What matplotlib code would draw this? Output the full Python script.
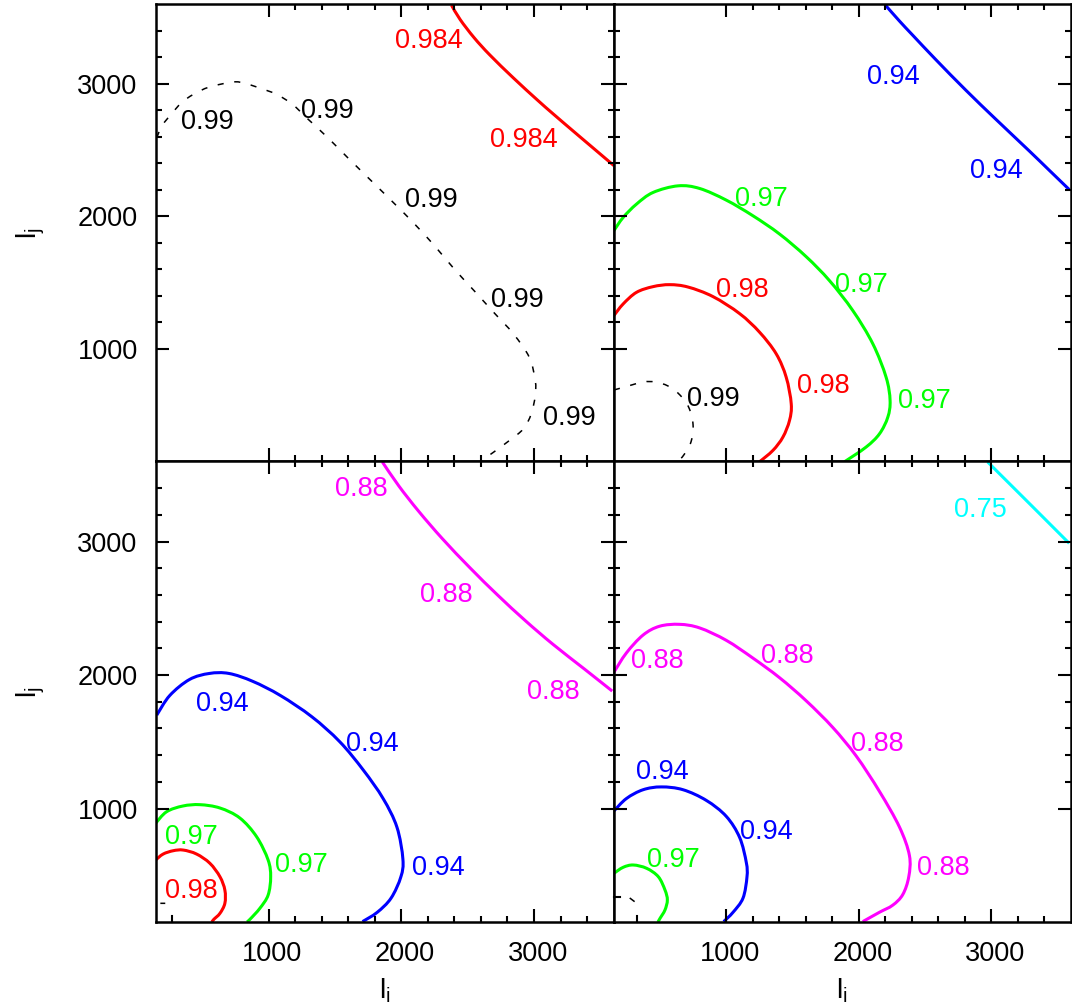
import matplotlib
matplotlib.use("Agg")
import matplotlib.pyplot as plt
from matplotlib.ticker import FixedLocator, NullFormatter
from matplotlib.transforms import ScaledTranslation
from matplotlib.path import Path
from matplotlib.patches import PathPatch

plt.rcParams['font.family'] = ['Liberation Sans', 'DejaVu Sans']
plt.rcParams['mathtext.fontset'] = 'custom'
plt.rcParams['mathtext.rm'] = 'Liberation Sans'

# ---------------- axes ----------------
l_min, l_max = 150, 3600
major_ticks = [1000, 2000, 3000]
minor_ticks = [1200, 1400, 1600, 1800, 2200, 2400, 2600, 2800, 3200, 3400]
tick_labels = ['1000', '2000', '3000']
x_title = r'$\mathregular{l_i}$'
y_title = r'$\mathregular{l_j}$'

# ---------------- iso-lines, panel (a) top-left ----------------
a_984_x = [2378, 2443, 2548, 2667, 2845, 3024, 3143, 3292, 3440, 3601]
a_984_y = [3595, 3487, 3350, 3219, 3045, 2880, 2775, 2647, 2521, 2384]
a_984_lab = [(2205, 3344), (2920, 2600)]

a_99_x = [158, 196, 256, 345, 435, 554, 732, 821, 940, 1060, 1179, 1298, 1446,
          1595, 1774, 1952, 2101, 2250, 2399, 2548, 2696, 2845, 2964, 3009,
          3009, 2979, 2920, 2815, 2696, 2592]
a_99_y = [2595, 2683, 2759, 2859, 2922, 2977, 3015, 3005, 2967, 2922, 2847, 2734,
          2595, 2445, 2269, 2093, 1942, 1779, 1603, 1440, 1276, 1113, 937, 761,
          648, 510, 397, 309, 221, 148]
a_99_lab = [(539, 2734), (1446, 2817), (2229, 2148), (2875, 1394), (3262, 503)]

# ---------------- panel (b) top-right ----------------
b_94_x = [2201, 2307, 2407, 2583, 2809, 3035, 3286, 3437, 3588]
b_94_y = [3595, 3475, 3368, 3182, 2952, 2733, 2495, 2349, 2203]
b_94_lab = [(2259, 3078), (3038, 2367)]

b_97_x = [151, 221, 322, 447, 636, 799, 1000, 1201, 1402, 1603, 1779, 1955,
          2106, 2206, 2236, 2219, 2156, 2055, 1892]
b_97_y = [1892, 1992, 2093, 2181, 2231, 2211, 2123, 2005, 1867, 1696, 1515, 1289,
          1038, 786, 611, 485, 359, 259, 148]
b_97_lab = [(1264, 2156), (2020, 1505), (2495, 631)]

b_98_x = [151, 221, 322, 447, 573, 711, 899, 1101, 1251, 1377, 1452, 1490,
          1477, 1427, 1352, 1251]
b_98_y = [1251, 1339, 1427, 1470, 1485, 1467, 1395, 1266, 1126, 962, 786, 585,
          460, 334, 234, 148]
b_98_lab = [(1118, 1465), (1734, 744)]

b_99_x = [152, 235, 371, 462, 560, 650, 718, 749, 734, 681, 635]
b_99_y = [690, 713, 750, 750, 720, 652, 555, 427, 300, 202, 150]
b_99_lab = [(905, 648)]

# ---------------- panel (c) bottom-left ----------------
c_88_x = [1857, 1982, 2131, 2310, 2518, 2726, 2935, 3143, 3381, 3589]
c_88_y = [3597, 3416, 3227, 3021, 2803, 2599, 2407, 2230, 2044, 1880]
c_88_lab = [(1699, 3413), (2339, 2622), (3143, 1897)]

c_94_x = [158, 256, 405, 554, 702, 881, 1089, 1327, 1536, 1714, 1863, 1967,
          2012, 1997, 1923, 1818, 1708]
c_94_y = [1700, 1847, 1967, 2012, 2012, 1953, 1847, 1687, 1501, 1288, 1075, 861,
          622, 489, 329, 222, 153]
c_94_lab = [(649, 1804), (1780, 1506), (2280, 579)]

c_97_x = [149, 232, 355, 483, 634, 784, 910, 997, 1016, 997, 935, 860, 837]
c_97_y = [889, 976, 1019, 1029, 1004, 929, 789, 614, 489, 352, 253, 170, 150]
c_97_lab = [(415, 808), (1244, 603)]

c_98_x = [149, 206, 282, 357, 458, 558, 634, 671, 671, 634, 588, 573]
c_98_y = [614, 659, 684, 689, 659, 590, 489, 389, 290, 215, 170, 150]
c_98_lab = [(415, 405)]

c_99_x = [185, 222]
c_99_y = [290, 290]

# ---------------- panel (d) bottom-right ----------------
d_75_x = [2972, 3136, 3312, 3462, 3588]
d_75_y = [3597, 3435, 3261, 3112, 2987]
d_75_lab = [(2915, 3261)]

d_88_x = [151, 246, 372, 497, 648, 799, 1000, 1201, 1402, 1603, 1804, 1980,
          2156, 2307, 2382, 2377, 2332, 2256, 2156, 2030]
d_88_y = [2020, 2166, 2300, 2366, 2380, 2353, 2260, 2127, 1980, 1807, 1607, 1394,
          1128, 861, 648, 489, 356, 276, 223, 153]
d_88_lab = [(480, 2129), (1460, 2164), (2136, 1503), (2638, 579)]

d_94_x = [151, 246, 372, 510, 673, 849, 1000, 1101, 1151, 1156, 1126, 1050, 980]
d_94_y = [981, 1075, 1141, 1162, 1141, 1061, 941, 782, 595, 489, 329, 222, 153]
d_94_lab = [(515, 1298), (1302, 846)]

d_97_x = [152, 222, 298, 399, 487, 537, 555, 537, 500, 484]
d_97_y = [515, 560, 577, 552, 489, 390, 315, 240, 178, 150]
d_97_lab = [(603, 638)]

d_99_x = [271, 311]
d_99_y = [330, 300]

# single stray ticks on the outer frame of the lower panels
c_extra_xticks = [272]
d_extra_xticks = [324]
d_extra_yticks = [340]

colors = {'0.75': '#00ffff', '0.88': '#ff00ff', '0.94': '#0000ff',
          '0.97': '#00ff00', '0.98': '#ff0000', '0.984': '#ff0000', '0.99': 'black'}

panels = [
    [('0.984', a_984_x, a_984_y, a_984_lab), ('0.99', a_99_x, a_99_y, a_99_lab)],
    [('0.94', b_94_x, b_94_y, b_94_lab), ('0.97', b_97_x, b_97_y, b_97_lab),
     ('0.98', b_98_x, b_98_y, b_98_lab), ('0.99', b_99_x, b_99_y, b_99_lab)],
    [('0.88', c_88_x, c_88_y, c_88_lab), ('0.94', c_94_x, c_94_y, c_94_lab),
     ('0.97', c_97_x, c_97_y, c_97_lab), ('0.98', c_98_x, c_98_y, c_98_lab),
     ('0.99', c_99_x, c_99_y, [])],
    [('0.75', d_75_x, d_75_y, d_75_lab), ('0.88', d_88_x, d_88_y, d_88_lab),
     ('0.94', d_94_x, d_94_y, d_94_lab), ('0.97', d_97_x, d_97_y, d_97_lab),
     ('0.99', d_99_x, d_99_y, [])],
]


def smooth_path(xs, ys):
    """Cubic Bezier path passing through every given point (Catmull-Rom tangents)."""
    pts = list(zip(xs, ys))
    n = len(pts)
    verts, codes = [pts[0]], [Path.MOVETO]
    for i in range(n - 1):
        p0, p1 = pts[max(i - 1, 0)], pts[i]
        p2, p3 = pts[i + 1], pts[min(i + 2, n - 1)]
        c1 = (p1[0] + (p2[0] - p0[0]) / 6, p1[1] + (p2[1] - p0[1]) / 6)
        c2 = (p2[0] - (p3[0] - p1[0]) / 6, p2[1] - (p3[1] - p1[1]) / 6)
        verts += [c1, c2, p2]
        codes += [Path.CURVE4] * 3
    return Path(verts, codes)


W, H = 1072, 1005
fig = plt.figure(figsize=(W / 100, H / 100), dpi=100)
L, M, R = 155.7 / W, 613.7 / W, 1070.8 / W
T, MID, B = 1 - 4.5 / H, 1 - 461.5 / H, 1 - 922 / H
axes = [fig.add_axes([L, MID, M - L, T - MID]),
        fig.add_axes([M, MID, R - M, T - MID]),
        fig.add_axes([L, B, M - L, MID - B]),
        fig.add_axes([M, B, R - M, MID - B])]

FS = 19.5
for k, (ax, curves) in enumerate(zip(axes, panels)):
    ax.set_xlim(l_min, l_max)
    ax.set_ylim(l_min, l_max)
    for s in ax.spines.values():
        s.set_linewidth(1.8)
    ax.xaxis.set_major_locator(FixedLocator(major_ticks))
    ax.yaxis.set_major_locator(FixedLocator(major_ticks))
    ax.xaxis.set_minor_locator(FixedLocator(minor_ticks))
    ax.yaxis.set_minor_locator(FixedLocator(minor_ticks))
    ax.tick_params(which='both', direction='in', top=True, right=True, width=1.5,
                   colors='black')
    ax.tick_params(which='major', length=9.5)
    ax.tick_params(which='minor', length=4.5)
    ax.tick_params(axis='x', which='major', pad=14.0, labelsize=FS)
    ax.tick_params(axis='y', which='major', pad=13.0, labelsize=FS)
    if k in (2, 3):
        ax.set_xticklabels(tick_labels)
        shift = ScaledTranslation(3.5 / 100, 0, fig.dpi_scale_trans)
        for lab in ax.get_xticklabels():
            lab.set_transform(lab.get_transform() + shift)
        ax.set_xlabel(x_title, fontsize=20.5, labelpad=6.5)
    else:
        ax.xaxis.set_major_formatter(NullFormatter())
    if k in (0, 2):
        ax.set_yticklabels(tick_labels)
        ax.set_ylabel(y_title, fontsize=20.5, labelpad=22)
    else:
        ax.yaxis.set_major_formatter(NullFormatter())

    for level, xs, ys, labs in curves:
        col = colors[level]
        if level == '0.99':
            patch = PathPatch(smooth_path(xs, ys), facecolor='none', edgecolor=col,
                              lw=1.1, linestyle=(0, (4, 7)))
        else:
            patch = PathPatch(smooth_path(xs, ys), facecolor='none', edgecolor=col,
                              lw=2.2, joinstyle='round')
        ax.add_patch(patch)
        for (lx, ly) in labs:
            ax.text(lx, ly, level, color=col, fontsize=FS, ha='center',
                    va='center_baseline')

for ax, xt in ((axes[2], c_extra_xticks), (axes[3], d_extra_xticks)):
    for v in xt:
        ax.plot([v, v], [0, 0.013], transform=ax.get_xaxis_transform(),
                color='black', lw=1.5, clip_on=False)
for v in d_extra_yticks:
    axes[3].plot([0, 0.013], [v, v], transform=axes[3].get_yaxis_transform(),
                 color='black', lw=1.5, clip_on=False)

fig.savefig('out.png', dpi=100)
